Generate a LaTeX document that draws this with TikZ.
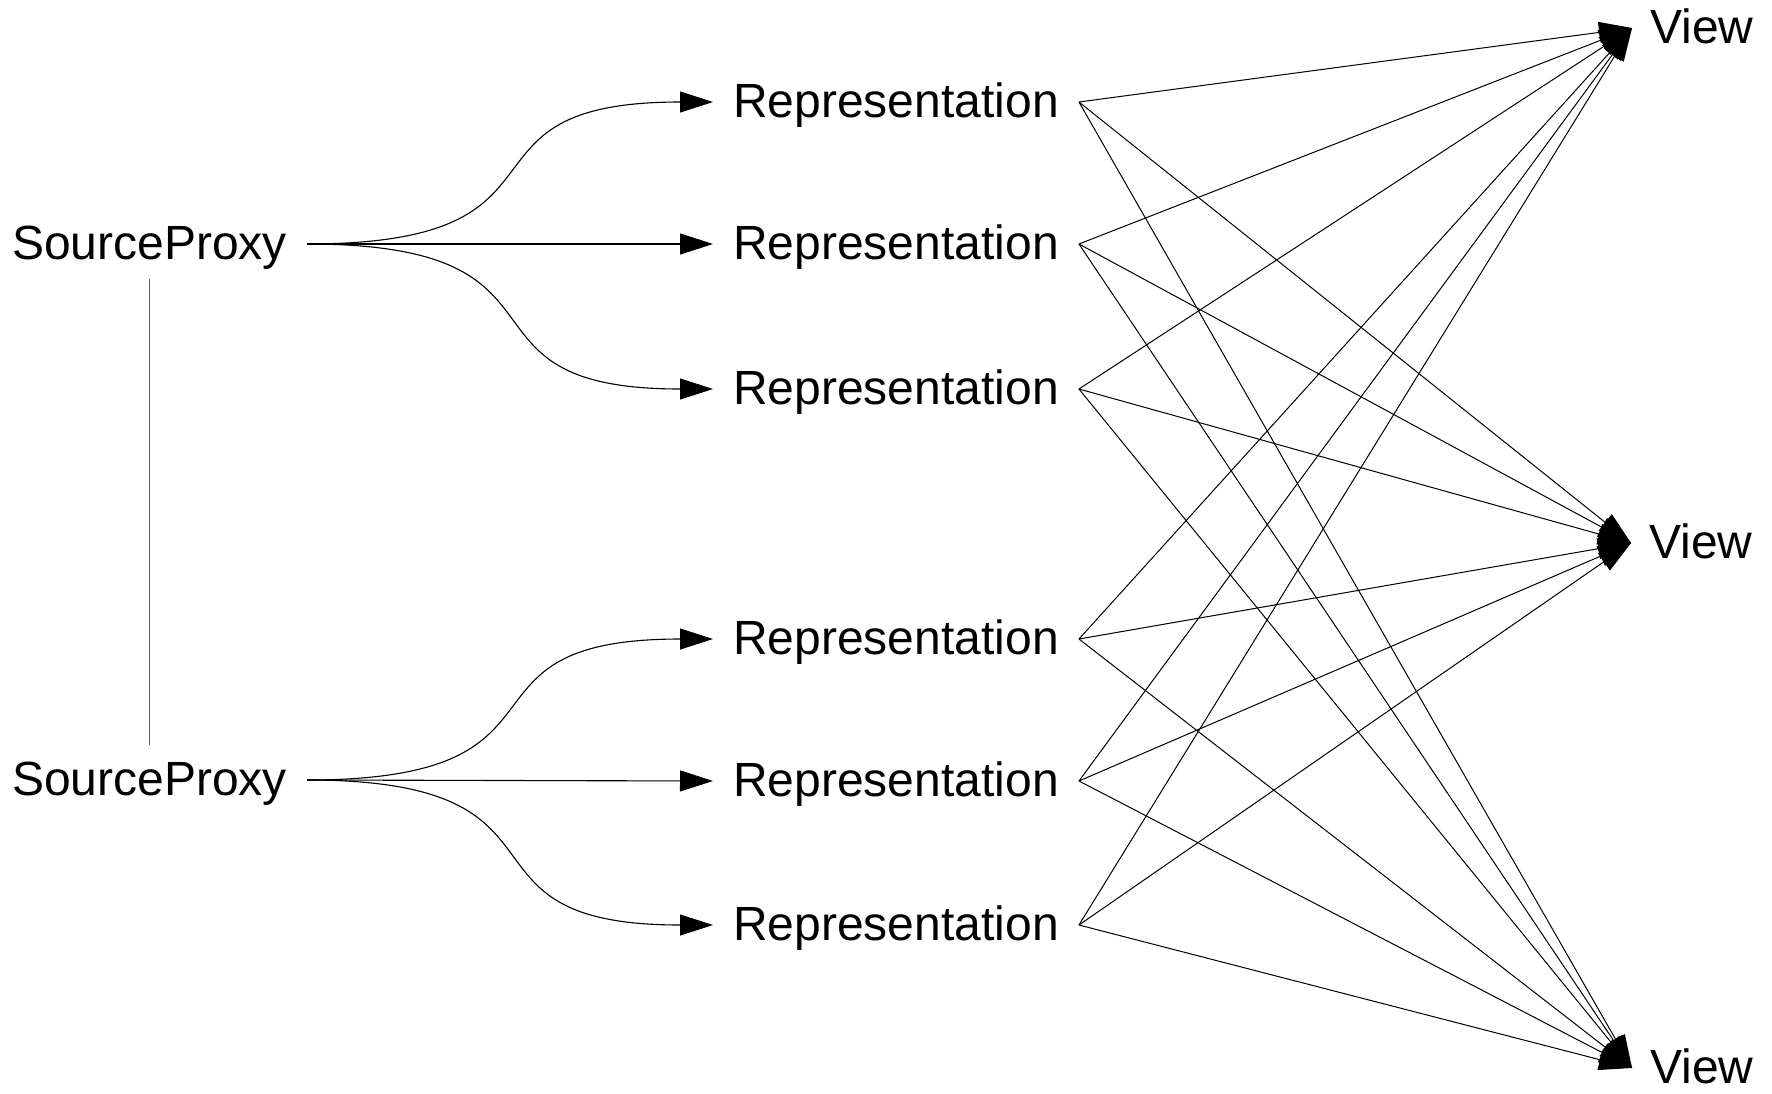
\documentclass[tikz,border=0pt]{standalone}
\usepackage{fontspec}
\setmainfont{Liberation Sans}
\usetikzlibrary{arrows.meta}
\begin{document}
\begin{tikzpicture}[x=1pt,y=-1pt,
  label/.style={inner ysep=0pt,text height=33pt,text depth=3pt,
    font=\fontsize{48}{58}\selectfont},
  proxy/.style={label,inner xsep=20pt,inner ysep=17pt},
  repr/.style={label,inner xsep=20pt},
  viewbox/.style={label,inner xsep=18pt},
  link/.style={line width=1.1pt,-{Triangle[length=33pt,width=21pt]}},
  thin link/.style={line width=1pt,-{Triangle[length=33pt,width=21pt]}},
  tie/.style={line width=1.5pt,black!62}]
\useasboundingbox (0,0) rectangle (1772,1093);

% source proxies
\node[proxy,anchor=east] (sp1) at (307,244) {SourceProxy};
\node[proxy,anchor=east] (sp2) at (307,780) {SourceProxy};

% representations
\node[repr,anchor=west] (r1) at (713,102) {Representation};
\node[repr,anchor=west] (r2) at (713,244) {Representation};
\node[repr,anchor=west] (r3) at (713,389) {Representation};
\node[repr,anchor=west] (r4) at (713,639) {Representation};
\node[repr,anchor=west] (r5) at (713,781) {Representation};
\node[repr,anchor=west] (r6) at (713,925) {Representation};

% views
\node[viewbox,anchor=west] (v1) at (1632,28) {View};
\node[viewbox,anchor=west] (v2) at (1631,543) {View};
\node[viewbox,anchor=west] (v3) at (1632,1068) {View};

% proxies are tied together
\draw[tie] (sp1.south) -- (sp2.north);

% each proxy feeds three representations
\draw[link] (sp1.east) .. controls +(288,0) and +(-276,0) .. (r1.west);
\draw[link] (sp1.east) -- (r2.west);
\draw[link] (sp1.east) .. controls +(288,0) and +(-276,0) .. (r3.west);
\draw[link] (sp2.east) .. controls +(288,0) and +(-276,0) .. (r4.west);
\draw[link] (sp2.east) -- (r5.west);
\draw[link] (sp2.east) .. controls +(288,0) and +(-276,0) .. (r6.west);

% every representation is shown in every view
\foreach \r in {r1,r2,r3,r4,r5,r6}{
  \foreach \v in {v1,v2,v3}{
    \draw[thin link] (\r.east) -- (\v.west);
  }
}
\end{tikzpicture}
\end{document}
